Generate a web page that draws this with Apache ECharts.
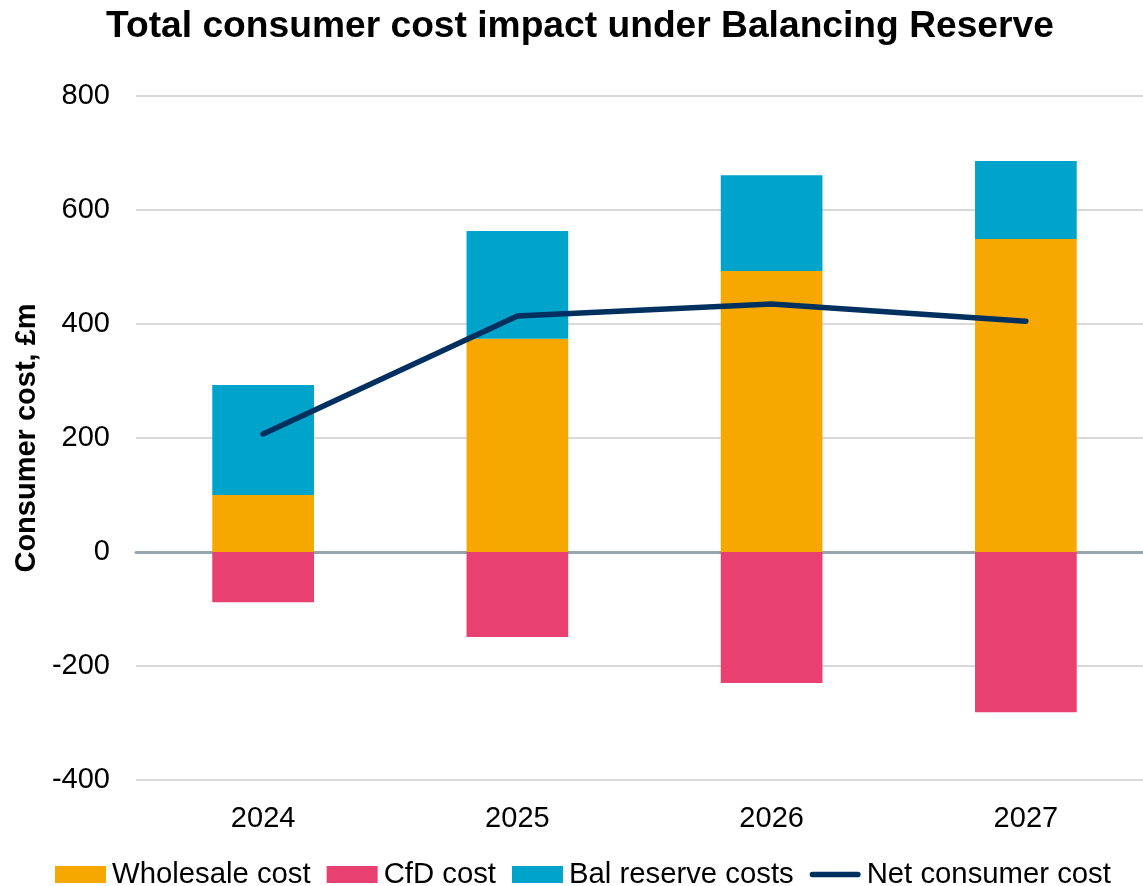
<!DOCTYPE html>
<html>
<head>
<meta charset="utf-8">
<script src="https://cdn.jsdelivr.net/npm/echarts@6/dist/echarts.min.js"></script>
<style>
html,body{margin:0;padding:0;background:#fff;}
#c{width:1143px;height:886px;}
</style>
</head>
<body>
<div id="c"></div>
<script>
const years = ['2024', '2025', '2026', '2027'];
const wholesaleCost = [100, 374, 493, 549];
const cfdCost = [-88, -149, -230, -281];
const balReserveCosts = [193, 189, 168, 137];
const netConsumerCost = [207, 414, 435, 405];

const FONT = '"Liberation Sans", Arial, sans-serif';
const chart = echarts.init(document.getElementById('c'), null, {renderer: 'canvas'});
chart.setOption({
  animation: false,
  backgroundColor: '#ffffff',
  textStyle: {fontFamily: FONT, color: '#000'},
  title: {
    text: 'Total consumer cost impact under Balancing Reserve',
    left: 106,
    top: 8,
    padding: 0,
    textStyle: {fontFamily: FONT, fontSize: 37.2, fontWeight: 'bold', color: '#000'}
  },
  legend: {
    bottom: -3,
    left: 55,
    padding: 0,
    itemWidth: 51,
    itemHeight: 17,
    itemGap: 16,
    textStyle: {fontFamily: FONT, fontSize: 29.3, color: '#000', padding: [0, 0, 0, 1]},
    data: [
      {name: 'Wholesale cost', icon: 'rect'},
      {name: 'CfD cost', icon: 'rect'},
      {name: 'Bal reserve costs', icon: 'rect'},
      {name: 'Net consumer cost', icon: 'path://M3,0 H54 A3,3 0 0 1 54,6 H3 A3,3 0 0 1 3,0 Z', itemStyle: {color: '#00305F'}}
    ]
  },
  grid: {left: 136, top: 96, bottom: 106, width: 1017, containLabel: false, outerBoundsMode: 'none'},
  xAxis: [
    {
      type: 'category',
      data: years,
      axisLine: {show: true, onZero: true, lineStyle: {color: '#95A7AD', width: 3}},
      axisTick: {show: false},
      axisLabel: {show: false}
    },
    {
      type: 'category', data: years, position: 'bottom', offset: 0,
      axisLine: {show: false}, axisTick: {show: false}, splitLine: {show: false},
      axisLabel: {fontFamily: FONT, fontSize: 29, color: '#000', margin: 24}
    }
  ],
  yAxis: {
    type: 'value',
    min: -400, max: 800, interval: 200,
    name: 'Consumer cost, £m',
    nameLocation: 'middle',
    nameGap: 91,
    nameTextStyle: {fontFamily: FONT, fontSize: 29, fontWeight: 'bold', color: '#000'},
    axisLine: {show: false},
    axisTick: {show: false},
    axisLabel: {fontFamily: FONT, fontSize: 29, color: '#000', margin: 26},
    splitLine: {lineStyle: {color: '#D9D9D9', width: 2}}
  },
  series: [
    {name: 'Wholesale cost', type: 'bar', stack: 'c', data: wholesaleCost, barWidth: '40%', itemStyle: {color: '#F7A800'}},
    {name: 'CfD cost', type: 'bar', stack: 'c', data: cfdCost, barWidth: '40%', itemStyle: {color: '#E84070'}},
    {name: 'Bal reserve costs', type: 'bar', stack: 'c', data: balReserveCosts, barWidth: '40%', itemStyle: {color: '#00A3C9'}},
    {name: 'Net consumer cost', type: 'line', data: netConsumerCost, symbol: 'none', showSymbol: false,
     lineStyle: {color: '#00305F', width: 5.5, cap: 'round', join: 'miter'}, itemStyle: {color: '#00305F'}, z: 5}
  ]
});
</script>
</body>
</html>
